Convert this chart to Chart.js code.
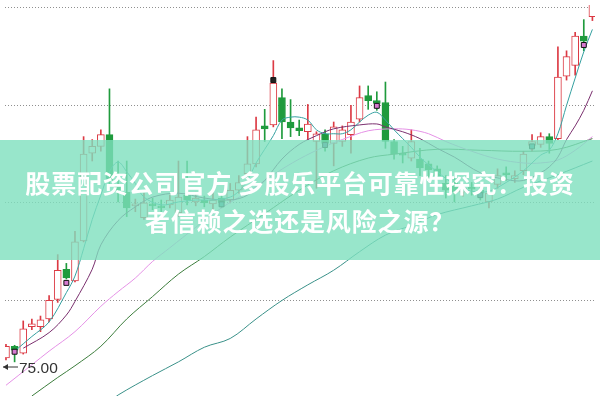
<!DOCTYPE html>
<html>
<head>
<meta charset="utf-8">
<script src="https://cdn.jsdelivr.net/npm/chart.js@4"></script>
<style>
  html, body { margin: 0; padding: 0; background: #fff; }
  #wrap { position: relative; width: 600px; height: 401px; overflow: hidden; }
  #banner { position: absolute; left: 0; top: 140px; width: 600px; height: 120px;
            background: rgba(126, 224, 190, 0.8); }
  .ttl { position: absolute; left: 0; width: 600px; text-align: center; color: #fff;
         font-family: "Noto Sans CJK SC"; font-weight: 700; font-size: 25px;
         line-height: 25px; letter-spacing: 0.85px; white-space: pre; }
  #low { position: absolute; left: 2px; top: 359px; height: 18px; font-family: "Liberation Sans";
         font-size: 15.5px; color: #333; line-height: 18px; }
  #low svg { vertical-align: top; margin-top: 2px; }
</style>
</head>
<body>
<div id="wrap">
  <canvas id="kline"></canvas>
  <div id="low"><svg width="17" height="12"><line x1="1" y1="6" x2="16" y2="6" stroke="#333" stroke-width="1"/><path d="M1 6 L6 3 L6 9 Z" fill="#333"/></svg><span id="lowtxt"></span></div>
  <div id="banner">
    <div class="ttl" style="top:30px">股票配资公司官方 多股乐平台可靠性探究：投资</div>
    <div class="ttl" style="top:68px">者信赖之选还是风险之源？</div>
  </div>
</div>
<script>
// K线数据
const opens  = [75.20,75.80,75.45,76.80,76.80,77.20,78.20,79.75,79.15,81.20,85.70,86.05,86.65,84.00,83.70,83.00,82.40,83.10,83.00,83.05,
                82.65,83.55,83.20,83.30,83.10,83.40,83.30,83.80,84.65,85.15,87.10,87.15,88.55,87.30,87.00,86.80,86.30,86.70,86.20,86.30,
                86.65,87.45,88.65,88.40,88.30,86.30,85.70,85.45,85.40,85.15,84.90,84.15,84.20,83.70,83.95,83.80,83.20,84.10,84.70,84.40,
                84.80,86.10,86.15,86.55,86.45,89.65,90.20,91.70,92.70];
const closes = [75.80,75.60,76.70,76.95,77.15,78.15,79.70,79.30,81.15,85.65,86.05,86.65,84.30,83.80,82.90,83.10,83.15,83.00,82.90,83.30,
                83.45,83.30,83.40,83.15,83.30,83.20,83.80,84.20,85.15,86.90,86.95,89.30,87.30,87.00,86.85,87.20,86.70,86.20,87.05,86.90,
                87.30,88.55,88.40,88.25,86.30,85.65,85.60,86.30,84.95,84.85,84.55,83.80,83.70,83.90,83.85,83.65,83.65,84.55,84.60,84.55,
                85.65,86.30,86.55,86.20,89.60,90.65,91.70,91.45,93.55];
const highs  = [75.90,75.85,77.10,77.20,77.35,78.40,80.50,80.05,81.70,86.55,86.40,86.90,89.00,85.30,85.30,83.35,83.65,83.40,83.30,83.55,
                85.30,85.30,83.70,83.50,83.80,83.60,84.15,84.55,86.55,87.55,87.95,90.45,89.00,88.45,87.40,88.20,86.80,86.90,87.30,87.10,
                88.15,89.15,89.15,88.85,89.35,86.40,86.05,86.90,85.95,85.30,85.05,84.55,84.40,84.10,84.20,84.00,83.95,84.90,85.00,84.80,
                85.80,86.65,86.75,86.70,91.15,90.95,91.90,92.55,93.70];
const lows   = [75.10,75.00,75.40,76.65,76.55,77.05,78.05,79.25,79.10,81.15,85.30,85.80,84.05,83.20,82.45,82.70,82.30,82.80,82.70,82.90,
                82.45,83.05,83.00,82.95,82.80,82.90,83.15,83.65,84.40,85.00,86.30,87.05,86.45,86.55,86.60,86.40,83.90,85.80,85.05,86.05,
                85.70,87.30,87.95,87.90,85.95,85.40,85.20,85.30,84.55,84.40,84.30,83.40,83.20,83.50,83.55,83.30,82.90,83.90,84.30,84.20,
                84.60,85.80,86.00,85.70,86.40,89.45,89.70,90.95,92.50];

// 均线（按图读取的点，x 为K线序号）
const ma5Idx = [1,3,5,7,8,9,10,11,12,13,14,15,16,18,20,22,24,26,27,28,29,30,31,32,33,34,35,36,37,38,39,40,41,42,43,44,45,46,47,48,49,50,52,54,56,58,60,62,63,64,65,66,67,68];
const ma5    = [75.55,76.30,77.05,78.55,79.40,80.80,82.30,83.55,84.75,85.25,84.75,84.15,83.45,83.05,83.20,83.30,83.30,83.45,83.75,84.30,85.20,85.90,86.60,87.40,87.55,87.55,87.40,86.90,86.70,86.70,86.70,86.90,87.30,87.65,87.80,87.40,86.90,86.45,86.00,85.50,85.10,84.75,84.10,83.75,83.75,84.20,84.80,85.60,85.85,86.70,88.15,89.55,90.90,92.05];
const ma10Idx = [2,5,7,8,10,11,13,15,17,20,23,26,28,30,32,34,36,38,41,43,44,46,48,50,52,55,58,60,62,63,64,65,66,67,68];
const ma10    = [75.70,76.50,77.40,78.10,79.75,81.00,82.25,82.95,83.45,83.65,83.40,83.30,83.55,84.30,85.40,86.15,86.60,86.95,87.15,87.20,87.05,86.80,86.45,85.95,85.50,84.70,84.35,84.30,84.70,85.00,85.50,86.40,87.10,87.90,88.90];
const ma20Idx = [0,3,5,8,11,13,15,17,19,22,25,28,31,34,37,39,42,45,47,49,51,54,57,60,62,64,66,68];
const ma20    = [73.80,74.85,75.55,76.55,77.85,78.60,79.30,80.15,80.85,81.90,82.90,83.70,84.60,85.40,86.05,86.40,86.85,86.95,86.90,86.70,86.30,85.80,85.40,85.20,85.20,85.35,85.85,86.55];
const ma30Idx = [3,6,8,11,14,17,20,23,26,30,34,38,42,45,50,55,60,64,68];
const ma30    = [73.25,74.20,74.80,75.80,77.20,78.35,79.50,80.40,81.40,82.60,83.80,84.80,85.45,85.65,85.90,85.85,85.80,85.90,86.45];
const ma60Idx = [12,13,17,20,23,26,29,32,35,38,41,44,47,50,54,57,60,64,68];
const ma60    = [72.95,73.30,74.30,75.00,75.75,76.20,77.20,78.15,78.95,79.70,80.65,81.50,82.00,82.55,83.00,83.35,83.95,84.60,85.30];

// 信号标记
const markIdx  = [1,7,25,31,37,43,55,61,67];
const markVal  = [75.52,79.05,83.08,89.45,86.12,88.13,83.55,86.05,91.25];
const markFill = ['#d67ad0','#d67ad0','#3f8f95','#222','#4a6c8a','#d67ad0','#4a6c8a','#3f8f95','#d67ad0'];

const gridLevels = [78.15, 83.15, 88.15, 93.15];
const lowLabel = '75.00';

const RED = '#dc3a44', GREEN = '#1f9b3d';
const isUp = opens.map((o, i) => closes[i] >= o);
const pts = (idx, vals) => idx.map((x, i) => ({ x: x, y: vals[i] }));

function maLine(label, idx, vals, color) {
    return { type: 'line', label: label, data: pts(idx, vals), borderColor: color, borderWidth: 1,
             pointRadius: 0, tension: 0.35, fill: false, order: 1 };
}

document.getElementById('lowtxt').innerText = lowLabel;

new Chart(document.getElementById('kline'), {
    type: 'bar',
    data: {
        datasets: [
            { type: 'line', label: 'mark', data: pts(markIdx, markVal), showLine: false, pointStyle: 'rect',
              pointRadius: 3.5, pointBackgroundColor: markFill, pointBorderColor: '#111', pointBorderWidth: 1, order: 0 },
            maLine('MA5', ma5Idx, ma5, '#35a0a0'),
            maLine('MA10', ma10Idx, ma10, '#7a2f6e'),
            maLine('MA20', ma20Idx, ma20, '#e591e6'),
            maLine('MA30', ma30Idx, ma30, '#3c7d3c'),
            maLine('MA60', ma60Idx, ma60, '#3a9189'),
            { label: 'body', data: opens.map((o, i) => ({ x: i, y: [o, closes[i]] })),
              backgroundColor: isUp.map(u => u ? '#fff' : GREEN), borderColor: isUp.map(u => u ? RED : GREEN),
              borderWidth: 1, borderSkipped: false, barThickness: 7, grouped: false, order: 2 },
            { label: 'wick', data: lows.map((l, i) => ({ x: i, y: [l, highs[i]] })),
              backgroundColor: isUp.map(u => u ? RED : GREEN), borderWidth: 0, barThickness: 1, grouped: false, order: 3 }
        ]
    },
    options: {
        responsive: true,
        maintainAspectRatio: false,
        animation: false,
        layout: { padding: 0 },
        plugins: { legend: { display: false }, tooltip: { enabled: false } },
        scales: {
            x: { type: 'linear', min: -0.114, max: 68.3, offset: false, display: false },
            y: {
                min: 73.25, max: 93.3,
                afterBuildTicks: s => { s.ticks = gridLevels.map(v => ({ value: v })); },
                ticks: { display: false },
                grid: { color: '#8f8f8f', drawTicks: false, lineWidth: 1 },
                border: { display: false, dash: [1, 2] }
            }
        }
    }
});
</script>
</body>
</html>
